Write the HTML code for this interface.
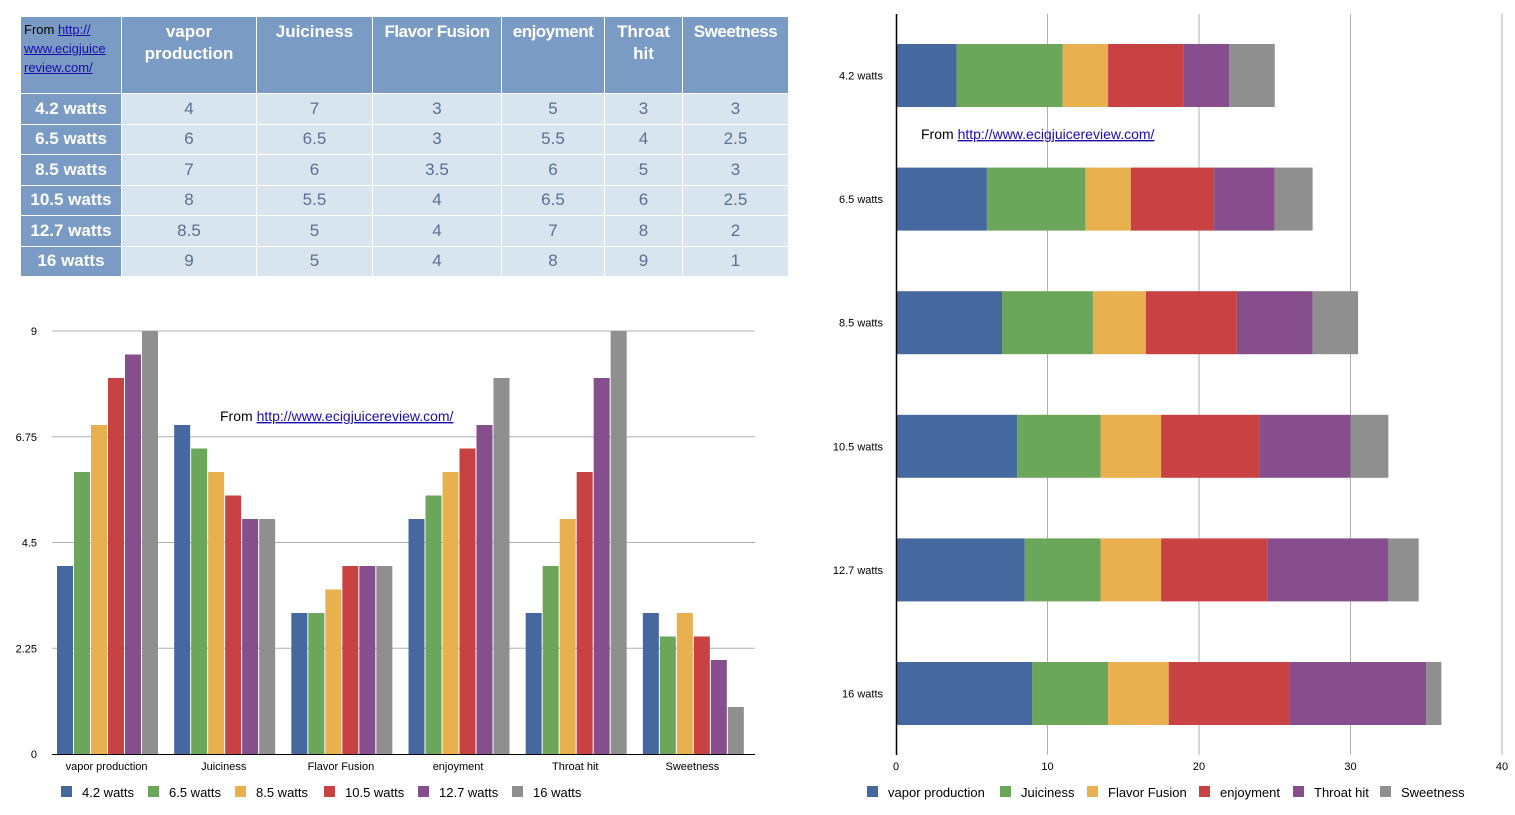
<!DOCTYPE html>
<html><head><meta charset="utf-8"><style>
body{margin:0;width:1515px;height:815px;background:#fff;position:relative;overflow:hidden;font-family:"Liberation Sans",sans-serif}
table{position:absolute;left:20px;top:16px;border-collapse:collapse;width:768px;table-layout:fixed}
td,th{border:1px solid #fff;padding:0;text-align:center;box-sizing:border-box}
th{background:#7a9bc3;color:#fff;font-size:17px;font-weight:bold;height:77px;vertical-align:top;padding-top:4px;line-height:22px;overflow:hidden}
td{background:#d9e5ee;color:#5a6e96;font-size:17px;height:30.5px}
td.rh{background:#7a9bc3;color:#fff;font-weight:bold;font-size:17px}
th.src{color:#000;font-weight:normal;font-size:13px;text-align:left;padding-left:3px;line-height:19px;padding-top:3px}
a{color:#1a0dab;text-decoration:underline}
svg{position:absolute;left:0;top:0}
</style></head><body>
<table>
<colgroup><col style="width:101px"><col style="width:135px"><col style="width:116px"><col style="width:129px"><col style="width:103px"><col style="width:78px"><col style="width:106px"></colgroup>
<tr><th class="src">From <a>http://<br>www.ecigjuice<br>review.com/</a></th><th>vapor<br>production</th><th>Juiciness</th><th style="letter-spacing:-0.5px">Flavor Fusion</th><th style="letter-spacing:-0.5px">enjoyment</th><th>Throat<br>hit</th><th style="letter-spacing:-0.5px">Sweetness</th></tr>
<tbody id="tb"></tbody>
</table>
<svg id="chart" width="1515" height="815"></svg>
<script>
const rows=["4.2 watts","6.5 watts","8.5 watts","10.5 watts","12.7 watts","16 watts"];
const cats=["vapor production","Juiciness","Flavor Fusion","enjoyment","Throat hit","Sweetness"];
const vapor=[4,6,7,8,8.5,9];
const juiciness=[7,6.5,6,5.5,5,5];
const flavor=[3,3,3.5,4,4,4];
const enjoyment=[5,5.5,6,6.5,7,8];
const throat=[3,4,5,6,8,9];
const sweetness=[3,2.5,3,2.5,2,1];
const leftTicks=[0,2.25,4.5,6.75,9];
const rightTicks=[0,10,20,30,40];
const series=[vapor,juiciness,flavor,enjoyment,throat,sweetness];
const rowColors=["#45689e","#6ca65b","#e8b04f","#c84143","#864e8c","#8f8f8f"];
const NS="http://www.w3.org/2000/svg";
const svg=document.getElementById('chart');
function mk(tag,attrs,parent){const e=document.createElementNS(NS,tag);for(const k in attrs)e.setAttribute(k,attrs[k]);(parent||svg).appendChild(e);return e;}
function txt(x,y,s,size,anchor,fill){const t=mk('text',{x:x,y:y,'font-size':size,'text-anchor':anchor||'start',fill:fill||'#000','font-family':'Liberation Sans, sans-serif'});t.textContent=s;return t;}
// table
const tb=document.getElementById('tb');
rows.forEach((r,i)=>{const tr=document.createElement('tr');


let h='<td class="rh">'+r+'</td>';series.forEach(s=>{h+='<td>'+s[i]+'</td>';});tr.innerHTML=h;tb.appendChild(tr);});
// left chart
const L={x0:52,x1:755,y0:754,y1:331,max:9};
const ly=v=>L.y0-(v/L.max)*(L.y0-L.y1);
leftTicks.forEach(t=>{if(t>0){const g=mk('line',{x1:L.x0,x2:L.x1,y1:ly(t),y2:ly(t),stroke:'#b0b0b0','stroke-width':1});

}
const tl=txt(37,ly(t)+4,String(t),11,'end');

});
const pitch=(L.x1-L.x0)/cats.length;
cats.forEach((c,ci)=>{
 rows.forEach((r,ri)=>{const v=series[ci][ri];const x=L.x0+ci*pitch+5+ri*17;
  const b=mk('rect',{x:x,y:ly(v),width:16,height:L.y0-ly(v),fill:rowColors[ri]});
  
  });
 const cl=txt(L.x0+ci*pitch+pitch/2-4,770,c,11,'middle');
 
 
});
const la=mk('line',{x1:L.x0,x2:L.x1,y1:L.y0+0.5,y2:L.y0+0.5,stroke:'#000','stroke-width':1});


const ann1=mk('text',{x:220,y:421,'font-size':14,'font-family':'Liberation Sans, sans-serif'});


ann1.innerHTML='From <tspan fill="#1a0dab" text-decoration="underline">http://www.ecigjuicereview.com/</tspan>';
const lx=[61,148,235,324,418,512];
rows.forEach((r,i)=>{const s=mk('rect',{x:lx[i],y:786,width:11,height:11,fill:rowColors[i]});


const t=txt(lx[i]+21,797,r,13);

});
// right chart
const R={x0:896,x1:1502,max:40,top:14,bot:755,band0:44,pitch:123.6,bh:63};
const rx=v=>R.x0+(v/R.max)*(R.x1-R.x0);
rightTicks.forEach(t=>{if(t>0){const g=mk('line',{x1:rx(t),x2:rx(t),y1:R.top,y2:R.bot,stroke:'#b0b0b0','stroke-width':1});

}
const tl=txt(rx(t),770,String(t),11,'middle');

});
rows.forEach((r,ri)=>{let acc=0;const y=R.band0+ri*R.pitch;
 series.forEach((s,si)=>{const b=mk('rect',{x:rx(acc),y:y,width:rx(acc+s[ri])-rx(acc),height:R.bh,fill:rowColors[si]});
  
  acc+=s[ri];});
 const rl=txt(883,y+R.bh/2+4,r,11,'end');
 
 
});
const ra=mk('line',{x1:R.x0+0.5,x2:R.x0+0.5,y1:R.top,y2:R.bot,stroke:'#000','stroke-width':1.5});


const ann2=mk('text',{x:921,y:139,'font-size':14,'font-family':'Liberation Sans, sans-serif'});


ann2.innerHTML='From <tspan fill="#1a0dab" text-decoration="underline">http://www.ecigjuicereview.com/</tspan>';
const rlx=[867,1000,1087,1199,1293,1380];
cats.forEach((c,i)=>{const s=mk('rect',{x:rlx[i],y:786,width:11,height:11,fill:rowColors[i]});


const t=txt(rlx[i]+21,797,c,13);

});
</script>
</body></html>
